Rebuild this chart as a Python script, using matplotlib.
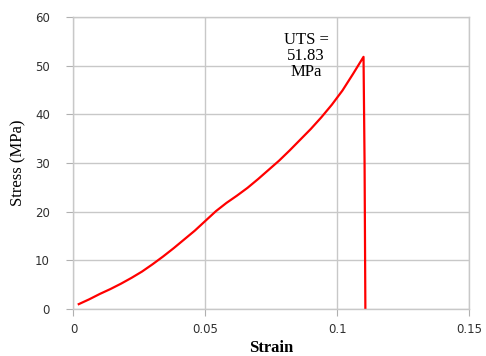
import numpy as np
import matplotlib.pyplot as plt

# stress-strain curve
strain = [0.002, 0.006, 0.010, 0.014, 0.018, 0.022, 0.026, 0.030, 0.034,
          0.038, 0.042, 0.046, 0.050, 0.054, 0.058, 0.062, 0.066, 0.070,
          0.074, 0.078, 0.082, 0.086, 0.090, 0.094, 0.098, 0.102, 0.106,
          0.1100, 0.1104, 0.1107]
stress = [1.0, 2.0, 3.1, 4.1, 5.2, 6.4, 7.7, 9.2, 10.8,
          12.5, 14.3, 16.1, 18.1, 20.1, 21.8, 23.3, 24.9, 26.7,
          28.6, 30.5, 32.6, 34.8, 37.0, 39.4, 42.0, 44.9, 48.3,
          51.83, 30.0, 0.0]

uts_label = "UTS =\n51.83\nMPa"
uts_pos = (0.0882, 47.0)

xticks = [0, 0.05, 0.1, 0.15]
xtick_labels = ["0", "0.05", "0.1", "0.15"]
yticks = [0, 10, 20, 30, 40, 50, 60]

fig = plt.figure(figsize=(4.86, 3.56), dpi=100)
ax = fig.add_axes([0.1512, 0.132, 0.8138, 0.820])

ax.plot(strain, stress, color='red', linewidth=1.6)

ax.text(uts_pos[0], uts_pos[1], uts_label, ha='center', va='bottom',
        family='Liberation Serif', fontsize=12, linespacing=1.0)

ax.set_xlim(0, 0.15)
ax.set_ylim(0, 60)
ax.set_xticks(xticks)
ax.set_xticklabels(xtick_labels)
ax.set_yticks(yticks)
ax.grid(True, color='#c8c8c8', linewidth=1.0)
ax.set_axisbelow(True)
for s in ax.spines.values():
    s.set_color('#c8c8c8')
    s.set_linewidth(1.0)
ax.tick_params(axis='y', length=5, color='#b0b0b0', pad=12, labelsize=8.5,
               labelcolor='#303030')
ax.tick_params(axis='x', length=5, color='#b0b0b0', pad=5, labelsize=8.5,
               labelcolor='#303030')

ax.set_ylabel('Stress (MPa)', family='Liberation Serif', fontsize=12, labelpad=6)
ax.set_xlabel('Strain', family='Liberation Serif', fontsize=12,
              fontweight='bold', labelpad=3)

fig.savefig('out.png', dpi=100)
